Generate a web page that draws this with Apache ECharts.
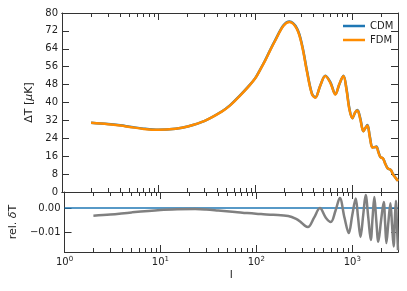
<!DOCTYPE html>
<html>
<head>
<meta charset="utf-8">
<script src="https://cdn.jsdelivr.net/npm/echarts@6/dist/echarts.min.js"></script>
<style>
html, body { margin: 0; padding: 0; background: #fff; }
#main { width: 407px; height: 291px; }
</style>
</head>
<body>
<div id="main"></div>
<script>
// multipole values and temperature amplitude
var ell = [2, 3, 4, 5, 7, 10, 15, 20, 30, 45, 55, 70, 85, 100, 112, 127, 143, 161, 196, 226, 270, 305, 344,
    386, 418, 470, 531, 600, 675, 740, 817, 880, 940, 1012, 1080, 1140, 1220, 1316, 1380, 1448,
    1530, 1630, 1710, 1794, 1880, 1973, 2100, 2200, 2334, 2440, 2530, 2620, 2700, 2850, 3000];
var dtCDM = [31, 30.4, 29.8, 29.2, 28.3, 27.8, 28.3, 29.3, 31.8, 36, 38.8, 43.3, 47.2, 50.9, 54.6, 59, 63.6, 67.9, 74.5, 76.2, 73.1, 65.7, 53.8,
    44, 42.3, 47.5, 52, 49, 43.7, 48, 52, 46, 37.5, 33, 35.5, 36.6, 33, 27.2, 28.6, 29.9,
    25, 20, 20, 20.3, 18, 15.6, 15, 13, 10.7, 10.2, 9.8, 8.6, 7.6, 6.2, 5];
var dtFDM = [30.9, 30.3, 29.7, 29.1, 28.2, 27.8, 28.3, 29.3, 31.8, 35.9, 38.7, 43.2, 47.1, 50.8, 54.5, 58.8, 63.4, 67.7, 74.3, 76, 72.8, 65.3, 53.4,
    43.8, 42.1, 47.5, 51.8, 48.7, 43.6, 48.2, 51.8, 45.6, 37.1, 33, 35.6, 36.4, 32.6, 27.2, 28.7, 29.7,
    24.7, 19.8, 20.1, 20.1, 17.7, 15.6, 15, 12.9, 10.6, 10.2, 9.8, 8.5, 7.5, 6.2, 4.9];

// relative difference panel
var ellRel = [2, 3, 5, 10, 15, 23, 30, 40, 60, 80, 112, 150, 215, 260, 290, 320, 345, 400, 460, 530,
    598, 670, 742, 830, 920, 1000, 1087, 1150, 1220, 1300, 1380, 1470, 1560, 1630, 1700, 1780, 1870,
    2000, 2130, 2200, 2270, 2380, 2500, 2600, 2700, 2780, 2850, 2930, 3000];
var relFDM = [-0.0032, -0.0027, -0.0018, -0.0008, -0.0005, -0.0004, -0.0006, -0.001, -0.0016, -0.0021, -0.0025, -0.0028, -0.0033, -0.0045, -0.0058, -0.0073, -0.0079, -0.004, 0.0, -0.004,
    -0.0058, -0.001, 0.0042, -0.004, -0.0104, -0.003, 0.004, -0.004, -0.012, -0.003, 0.0054, -0.004, -0.0133, -0.004, 0.0046, -0.005, -0.014,
    -0.005, 0.0025, -0.006, -0.0146, -0.006, 0.002, -0.007, -0.016, -0.005, 0.003, -0.008, -0.0175];
var ellRelCDM = [1, 3000];
var relCDM = [0, 0];

var majorTicks = [1, 10, 100, 1000];
var minorTicks = [2, 3, 4, 5, 6, 7, 8, 9, 20, 30, 40, 50, 60, 70, 80, 90,
    200, 300, 400, 500, 600, 700, 800, 900, 2000, 3000];
var relTicks = [-0.01, 0];

function pairs(xs, ys) {
    return xs.map(function (x, i) { return [x, ys[i]]; });
}

var axisColor = '#333';
var font = 'DejaVu Sans';

function xAx(grid, pos, ticks, len, labels) {
    return {
        type: 'log', logBase: 10, min: 1, max: 3000, gridIndex: grid, position: pos,
        axisLine: { show: true, onZero: false, lineStyle: { color: axisColor, width: 1 } },
        axisTick: { show: true, inside: true, length: len, customValues: ticks, lineStyle: { color: axisColor } },
        axisLabel: {
            show: labels, customValues: majorTicks, margin: 4, color: '#222', fontFamily: font,
            formatter: function (v) { return '{b|10}{s|' + Math.round(Math.log10(v)) + '}'; },
            rich: {
                b: { fontSize: 10, fontFamily: font, color: '#222' },
                s: { fontSize: 7, fontFamily: font, color: '#222', padding: [0, 0, 6, 0] }
            }
        },
        splitLine: { show: false }, minorTick: { show: false }
    };
}

var option = {
    animation: false,
    backgroundColor: '#fff',
    grid: [
        { left: 62, right: 9, top: 13, height: 179 },
        { left: 62, right: 9, top: 192, height: 60 }
    ],
    legend: {
        data: ['CDM', 'FDM'],
        orient: 'vertical', left: 338, top: 16,
        icon: 'rect', itemWidth: 22, itemHeight: 2.5, itemGap: 4,
        textStyle: { fontSize: 10, fontFamily: font, color: '#222' }
    },
    xAxis: [
        xAx(0, 'bottom', majorTicks, 7, false),
        xAx(0, 'bottom', minorTicks, 4, false),
        xAx(0, 'top', majorTicks, 7, false),
        xAx(0, 'top', minorTicks, 4, false),
        Object.assign(xAx(1, 'bottom', majorTicks, 7, true), {
            name: 'l', nameLocation: 'middle', nameGap: 18,
            nameTextStyle: { fontSize: 11, fontFamily: font, color: '#222' }
        }),
        xAx(1, 'bottom', minorTicks, 4, false),
        xAx(1, 'top', majorTicks, 7, false),
        xAx(1, 'top', minorTicks, 4, false)
    ],
    yAxis: [
        {
            type: 'value', gridIndex: 0, position: 'left', min: 0, max: 80, interval: 8,
            name: 'ΔT [{i|μ}K]', nameLocation: 'middle', nameGap: 18, nameRotate: 90,
            nameTextStyle: { fontSize: 11, fontFamily: font, color: '#222',
                rich: { i: { fontSize: 11, fontFamily: font, fontStyle: 'italic', color: '#222' } } },
            axisLine: { show: true, lineStyle: { color: axisColor } },
            axisTick: { show: true, inside: true, length: 7, lineStyle: { color: axisColor } },
            axisLabel: { margin: 4, fontSize: 10, fontFamily: font, color: '#222' },
            splitLine: { show: false }
        },
        {
            type: 'value', gridIndex: 0, position: 'right', min: 0, max: 80, interval: 8,
            axisLine: { show: true, lineStyle: { color: axisColor } },
            axisTick: { show: true, inside: true, length: 7, lineStyle: { color: axisColor } },
            axisLabel: { show: false }, splitLine: { show: false }
        },
        {
            type: 'value', gridIndex: 1, position: 'left', min: -0.0183, max: 0.0067,
            name: 'rel. {i|δ}T', nameLocation: 'middle', nameGap: 42, nameRotate: 90,
            nameTextStyle: { fontSize: 11, fontFamily: font, color: '#222',
                rich: { i: { fontSize: 11, fontFamily: font, fontStyle: 'italic', color: '#222' } } },
            axisLine: { show: true, lineStyle: { color: axisColor } },
            axisTick: { show: true, inside: true, length: 7, customValues: relTicks, lineStyle: { color: axisColor } },
            axisLabel: {
                margin: 4, fontSize: 10, fontFamily: font, color: '#222', customValues: relTicks,
                formatter: function (v) { return v.toFixed(2).replace('-', '\u2212'); }
            },
            splitLine: { show: false }
        },
        {
            type: 'value', gridIndex: 1, position: 'right', min: -0.0183, max: 0.0067,
            axisLine: { show: true, lineStyle: { color: axisColor } },
            axisTick: { show: true, inside: true, length: 7, customValues: relTicks, lineStyle: { color: axisColor } },
            axisLabel: { show: false }, splitLine: { show: false }
        }
    ],
    series: [
        {
            name: 'CDM', type: 'line', xAxisIndex: 0, yAxisIndex: 0,
            data: pairs(ell, dtCDM), symbol: 'none', smooth: 0.35,
            color: '#1f77b4', lineStyle: { width: 2.5 }
        },
        {
            name: 'FDM', type: 'line', xAxisIndex: 0, yAxisIndex: 0,
            data: pairs(ell, dtFDM), symbol: 'none', smooth: 0.35,
            color: '#ff8c00', lineStyle: { width: 2.5 }
        },
        {
            name: 'CDM rel', type: 'line', xAxisIndex: 4, yAxisIndex: 2,
            data: pairs(ellRelCDM, relCDM), symbol: 'none',
            color: '#1f77b4', lineStyle: { width: 1.5 }
        },
        {
            name: 'FDM rel', type: 'line', xAxisIndex: 4, yAxisIndex: 2,
            data: pairs(ellRel, relFDM), symbol: 'none', smooth: 0.35,
            color: '#808080', lineStyle: { width: 2.5 }
        }
    ]
};

var chart = echarts.init(document.getElementById('main'));
chart.setOption(option);
</script>
</body>
</html>
